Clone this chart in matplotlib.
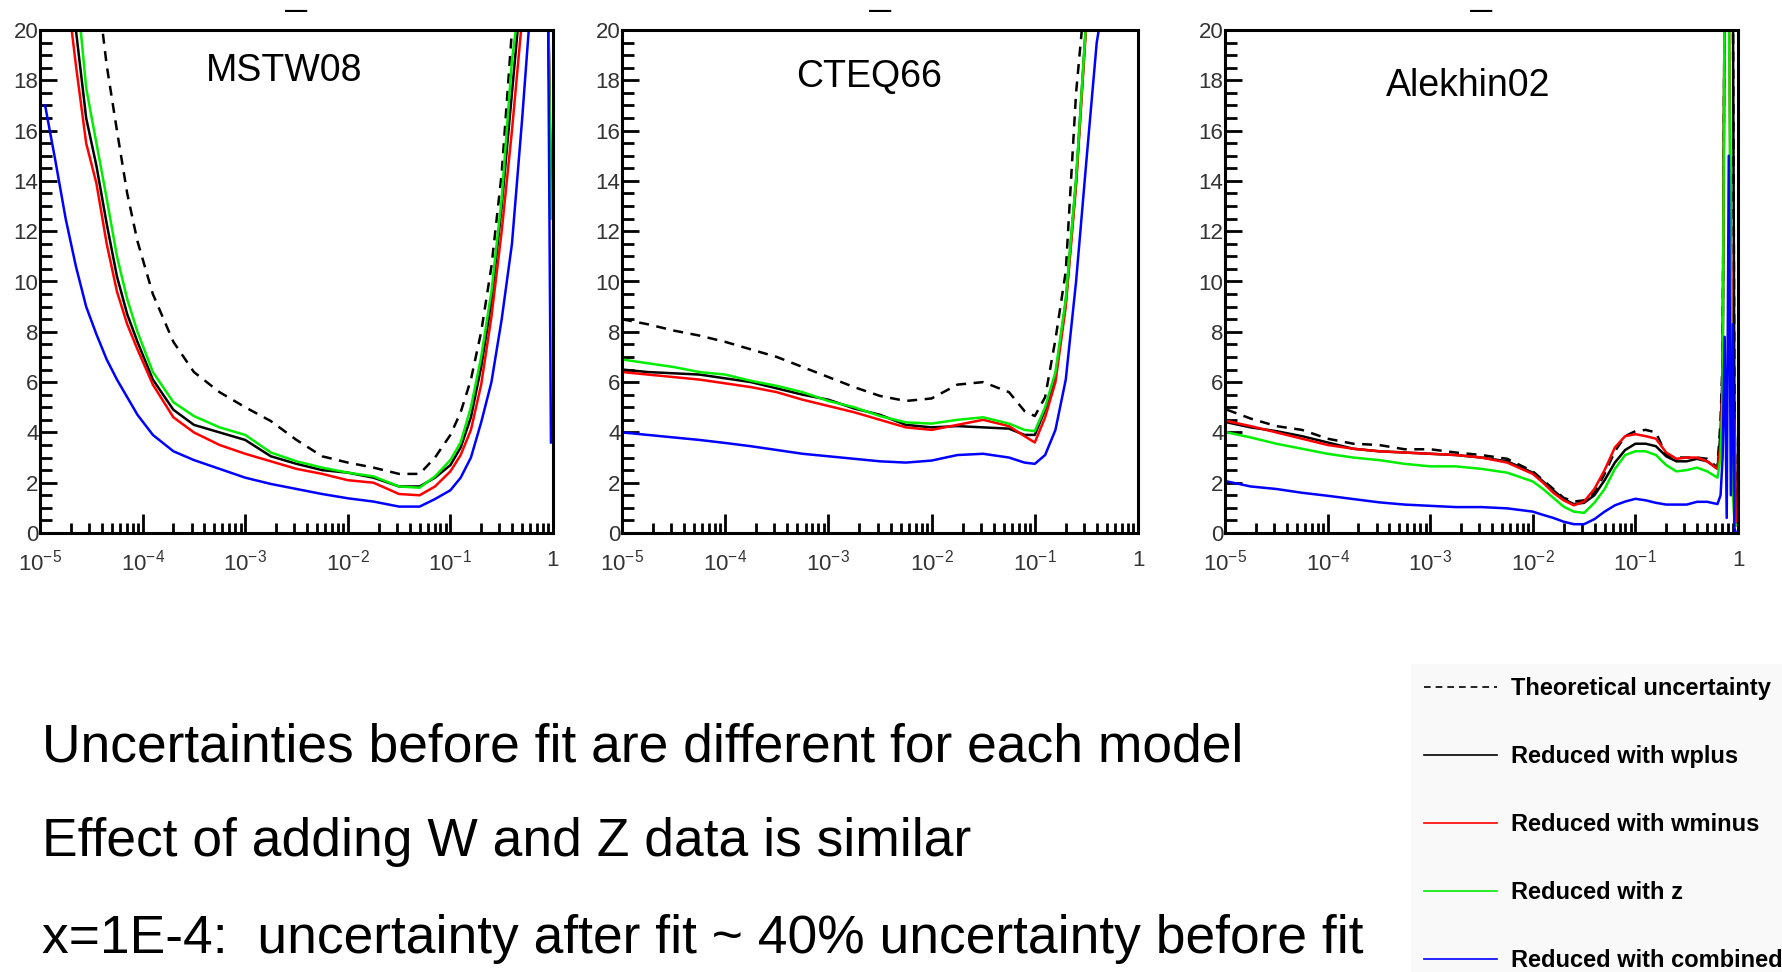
import numpy as np
import matplotlib
matplotlib.use("Agg")
import matplotlib.pyplot as plt
from matplotlib.lines import Line2D
from matplotlib.ticker import FixedLocator, FixedFormatter, LogLocator, NullFormatter, MultipleLocator

plt.rcParams["font.family"] = ["Liberation Sans", "DejaVu Sans"]
plt.rcParams["mathtext.fontset"] = "custom"
plt.rcParams["mathtext.rm"] = "Liberation Sans"
plt.rcParams["mathtext.default"] = "regular"

# series order: theory (dashed), wplus, wminus, z, combined
series_labels = ["Theoretical uncertainty", "Reduced with wplus", "Reduced with wminus",
                 "Reduced with z", "Reduced with combined"]
series_colors = ["black", "black", "#ff0000", "#00ee00", "#0000ff"]
series_styles = [(0, (4, 3)), "-", "-", "-", "-"]

x_ticks = [1e-5, 1e-4, 1e-3, 1e-2, 1e-1, 1]
x_tick_labels = ["$10^{-5}$", "$10^{-4}$", "$10^{-3}$", "$10^{-2}$", "$10^{-1}$", "1"]
y_ticks = [0, 2, 4, 6, 8, 10, 12, 14, 16, 18, 20]

bottom_lines = [
    "Uncertainties before fit are different for each model",
    "Effect of adding W and Z data is similar",
    "x=1E-4:  uncertainty after fit ~ 40% uncertainty before fit",
]

# ---- MSTW08 (log10 x) ----
mstw_logx = [-4.95, -4.85, -4.75, -4.65, -4.55, -4.45, -4.35, -4.25, -4.15, -4.05, -3.9, -3.7,
             -3.5, -3.25, -3.0, -2.75, -2.5, -2.25, -2.0, -1.75, -1.5, -1.3, -1.15, -1.0, -0.9,
             -0.8, -0.7, -0.6, -0.5, -0.4, -0.3, -0.2, -0.1, -0.05, -0.02]
mstw_theory = [22, 22, 22, 22, 22, 22, 18.6, 16.0, 13.5, 11.6, 9.5, 7.6, 6.4, 5.6, 5.0, 4.45, 3.7,
               3.05, 2.8, 2.6, 2.35, 2.35, 3.0, 3.9, 4.8, 6.1, 8.0, 10.6, 14.3, 20.0, 22, 22, 22,
               22, 22]
mstw_wplus = [22, 22, 22, 20.0, 16.5, 14.6, 12.3, 10.2, 8.7, 7.6, 6.1, 4.9, 4.3, 4.0, 3.7, 3.05,
              2.75, 2.5, 2.4, 2.2, 1.85, 1.85, 2.2, 2.7, 3.4, 4.6, 6.6, 9.2, 13.0, 17.5, 22, 22,
              22, 22, 13.5]
mstw_wminus = [22, 22, 22, 18.6, 15.5, 13.9, 11.5, 9.6, 8.3, 7.3, 5.9, 4.6, 4.0, 3.5, 3.15, 2.85,
               2.55, 2.35, 2.1, 2.0, 1.55, 1.5, 1.85, 2.45, 3.1, 4.1, 5.9, 8.6, 12.0, 16.0, 20.5,
               22, 22, 22, 12.8]
mstw_z = [22, 22, 22, 22, 17.7, 15.5, 13.3, 11.0, 9.3, 8.0, 6.4, 5.2, 4.65, 4.2, 3.9, 3.2, 2.85,
          2.6, 2.4, 2.25, 1.85, 1.8, 2.25, 2.9, 3.6, 5.0, 7.0, 9.6, 13.3, 18.8, 22, 22, 22, 22,
          12.5]
mstw_combined = [17.0, 14.8, 12.5, 10.6, 9.0, 7.9, 6.9, 6.1, 5.4, 4.7, 3.9, 3.25, 2.9, 2.55, 2.2,
                 1.95, 1.75, 1.55, 1.38, 1.25, 1.05, 1.05, 1.35, 1.7, 2.2, 3.0, 4.4, 6.0, 8.5,
                 11.5, 16.5, 22, 22, 22, 3.6]

# ---- CTEQ66 ----
cteq_logx = [-5.0, -4.75, -4.5, -4.25, -4.0, -3.75, -3.5, -3.25, -3.0, -2.75, -2.5, -2.25, -2.0,
             -1.75, -1.5, -1.25, -1.1, -1.0, -0.9, -0.8, -0.7, -0.6, -0.5, -0.4, -0.3]
cteq_theory = [8.5, 8.3, 8.05, 7.85, 7.6, 7.3, 7.0, 6.6, 6.2, 5.8, 5.45, 5.25, 5.35, 5.9, 6.0,
               5.6, 4.85, 4.65, 5.4, 7.7, 10.4, 17.5, 22, 22, 22]
cteq_wplus = [6.5, 6.4, 6.35, 6.3, 6.15, 6.0, 5.75, 5.5, 5.3, 4.95, 4.7, 4.3, 4.2, 4.25, 4.2,
              4.15, 3.9, 3.9, 4.9, 6.2, 9.2, 14.0, 20.5, 22, 22]
cteq_wminus = [6.4, 6.3, 6.2, 6.1, 5.95, 5.8, 5.6, 5.3, 5.05, 4.8, 4.5, 4.2, 4.1, 4.3, 4.5,
               4.25, 3.85, 3.6, 4.6, 6.0, 9.0, 13.8, 20.3, 22, 22]
cteq_z = [6.9, 6.75, 6.6, 6.4, 6.3, 6.05, 5.85, 5.6, 5.25, 5.0, 4.65, 4.4, 4.35, 4.5, 4.6, 4.35,
          4.1, 4.05, 5.0, 6.4, 9.3, 14.1, 20.5, 22, 22]
cteq_combined = [4.0, 3.9, 3.8, 3.7, 3.58, 3.45, 3.3, 3.15, 3.05, 2.95, 2.85, 2.8, 2.88, 3.1,
                 3.15, 3.0, 2.8, 2.75, 3.1, 4.1, 6.1, 10.0, 14.8, 19.5, 22]

# ---- Alekhin02 ----
ale_logx = [-4.98, -4.75, -4.5, -4.25, -4.0, -3.75, -3.5, -3.25, -3.0, -2.75, -2.5, -2.25, -2.0,
            -1.9, -1.8, -1.7, -1.6, -1.5, -1.4, -1.3, -1.2, -1.1, -1.0, -0.9, -0.8, -0.7, -0.6,
            -0.5, -0.4, -0.3, -0.2, -0.17, -0.15, -0.13, -0.11, -0.09, -0.07, -0.05, -0.035,
            -0.02]
ale_theory = [4.9, 4.55, 4.25, 4.1, 3.75, 3.55, 3.5, 3.33, 3.33, 3.2, 3.1, 2.95, 2.45, 2.1, 1.75,
              1.4, 1.25, 1.3, 1.6, 2.35, 3.25, 3.85, 4.05, 4.1, 4.0, 3.1, 3.0, 3.0, 3.0, 2.95,
              2.6, 4.5, 7.0, 22, 22, 22, 22, 22, 5.5, 0.3]
ale_wplus = [4.4, 4.2, 4.05, 3.85, 3.6, 3.35, 3.25, 3.2, 3.15, 3.1, 3.0, 2.85, 2.4, 2.05, 1.7,
             1.35, 1.15, 1.2, 1.5, 2.1, 2.8, 3.3, 3.55, 3.55, 3.45, 3.05, 2.85, 2.85, 2.95, 2.85,
             2.55, 4.0, 6.5, 22, 22, 22, 22, 22, 5.3, 0.5]
ale_wminus = [4.45, 4.25, 4.0, 3.75, 3.5, 3.35, 3.25, 3.2, 3.15, 3.1, 3.0, 2.8, 2.35, 2.0, 1.6,
              1.3, 1.1, 1.25, 1.75, 2.5, 3.4, 3.85, 3.93, 3.85, 3.75, 3.2, 2.95, 3.0, 3.0, 2.85,
              2.55, 3.5, 6.0, 22, 22, 22, 12.0, 4.6, 4.5, 0.3]
ale_z = [4.0, 3.8, 3.55, 3.35, 3.15, 3.0, 2.9, 2.75, 2.65, 2.65, 2.55, 2.4, 2.05, 1.75, 1.4, 1.05,
         0.85, 0.8, 1.2, 1.75, 2.55, 3.1, 3.25, 3.25, 3.1, 2.7, 2.45, 2.5, 2.6, 2.45, 2.2, 3.0,
         5.5, 22, 22, 22, 10.0, 1.5, 0.5, 0.3]
ale_combined = [2.05, 1.85, 1.75, 1.6, 1.48, 1.35, 1.22, 1.13, 1.08, 1.03, 1.03, 0.98, 0.85,
                0.72, 0.6, 0.45, 0.35, 0.35, 0.55, 0.85, 1.1, 1.25, 1.36, 1.3, 1.2, 1.13, 1.13,
                1.13, 1.24, 1.24, 1.15, 1.5, 3.0, 7.8, 0.6, 15.0, 1.5, 8.3, 0.2, 0.0]

panels = [
    ("MSTW08", mstw_logx, [mstw_theory, mstw_wplus, mstw_wminus, mstw_z, mstw_combined]),
    ("CTEQ66", cteq_logx, [cteq_theory, cteq_wplus, cteq_wminus, cteq_z, cteq_combined]),
    ("Alekhin02", ale_logx, [ale_theory, ale_wplus, ale_wminus, ale_z, ale_combined]),
]

W, H = 1782, 972
fig = plt.figure(figsize=(W / 100, H / 100), dpi=100)

# panel rectangles in pixels: left, right; all share top/bottom
px_lr = [(40, 553), (622, 1138), (1225, 1738)]
px_top, px_bot = 30, 533
name_pos = [(0.476, 0.919), (0.479, 0.907), (0.474, 0.889)]

for (name, logx, vals), (l, r), (tx, ty) in zip(panels, px_lr, name_pos):
    ax = fig.add_axes([l / W, 1 - px_bot / H, (r - l) / W, (px_bot - px_top) / H])
    xs = 10 ** np.array(logx)
    for v, c, ls in zip(vals, series_colors, series_styles):
        ax.plot(xs, v, color=c, linestyle=ls, lw=1.8)
    ax.set_xscale("log")
    ax.set_xlim(1e-5, 1)
    ax.set_ylim(0, 20)
    ax.xaxis.set_major_locator(FixedLocator(x_ticks))
    ax.xaxis.set_major_formatter(FixedFormatter(x_tick_labels))
    ax.xaxis.set_minor_locator(LogLocator(base=10, subs=np.arange(2, 10)))
    ax.xaxis.set_minor_formatter(NullFormatter())
    ax.yaxis.set_major_locator(FixedLocator(y_ticks))
    ax.yaxis.set_minor_locator(MultipleLocator(0.5))
    ax.tick_params(which="both", direction="in", width=2, labelsize=16,
                   labelcolor="#333333", top=False, right=False)
    ax.tick_params(axis="y", which="major", length=12, pad=1)
    ax.tick_params(axis="y", which="minor", length=8.5)
    ax.tick_params(axis="x", which="major", length=14, pad=12)
    ax.tick_params(axis="x", which="minor", length=7)
    for s in ax.spines.values():
        s.set_linewidth(2.2)
    ax.text(tx, ty, name, transform=ax.transAxes, ha="center", va="center", fontsize=27)
    # clipped ROOT title remnant above each pad
    fig.text((l + r) / 2 / W, 1 - 12 / H, "\u2014", ha="center", va="center",
             fontsize=16, fontweight="bold")

for i, line in enumerate(bottom_lines):
    fig.text(42 / W, 1 - [747, 842, 939][i] / H, line, ha="left", va="center", fontsize=38.4)

handles = [Line2D([], [], color=c, linestyle=ls, lw=1.2)
           for c, ls in zip(series_colors, series_styles)]
fig.legend(handles, series_labels, loc="upper left", bbox_to_anchor=(1399 / W, 1 - 652 / H),
           frameon=True, facecolor="#f8f8f8", edgecolor="none", fancybox=False,
           prop={"weight": "bold", "size": 17}, handlelength=3.1, handletextpad=0.6,
           labelspacing=1.91, borderpad=0.55)

fig.savefig("out.png", dpi=100)
